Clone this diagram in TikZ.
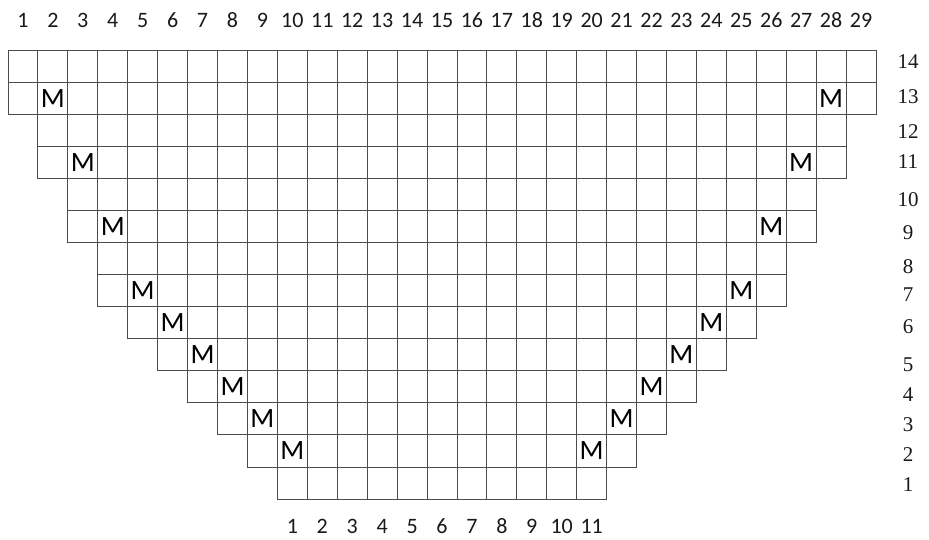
\documentclass[tikz,border=0pt]{standalone}
\usepackage{fontspec}
\setmainfont{Liberation Serif}
\newfontfamily\cellfont{Carlito}
\begin{document}
\begin{tikzpicture}[
    x=29.93pt, y=32.07pt,
    cell/.style   = {draw=black!70, line width=0.9pt},
    collab/.style = {font=\cellfont\fontsize{22}{22}\selectfont, text=black!90, inner sep=0pt, anchor=base},
    rowlab/.style = {font=\fontsize{21}{21}\selectfont, text=black!90, inner sep=0pt},
    mcell/.style  = {font=\cellfont\fontsize{28}{28}\selectfont, text=black, inner sep=0pt}
  ]
  \useasboundingbox (-0.267,-1.247) rectangle (30.77,15.56);

  %% rows: row number / first column / last column
  \foreach \r/\L/\R in {14/1/29, 13/1/29, 12/2/28, 11/2/28, 10/3/27, 9/3/27, 8/4/26,
                        7/4/26, 6/5/25, 5/6/24, 4/7/23, 3/8/22, 2/9/21, 1/10/20}{
    \foreach \c in {\L,...,\R}{\draw[cell] (\c-1,\r-1) rectangle (\c,\r);}
  }

  %% M marks: second cell in from each end
  \foreach \r/\L/\R in {13/2/28, 11/3/27, 9/4/26, 7/5/25, 6/6/24, 5/7/23, 4/8/22, 3/9/21, 2/10/20}{
    \node[mcell] (mL\r) at (\L-0.5,\r-0.5) {M};
    \node[mcell] (mR\r) at (\R-0.5,\r-0.5) {M};
  }

  %% column numbers on top
  \foreach \c in {1,...,29}{\node[collab] (col\c) at (\c-0.5,14.69) {\c};}

  %% numbers under the bottom row
  \foreach \k in {1,...,11}{\node[collab] (base\k) at (\k+8.5,-1.07) {\k};}

  %% row numbers on the right
  \foreach \r/\yy in {14/62, 13/97, 12/132, 11/162, 10/200, 9/233, 8/267, 7/295,
                      6/327, 5/365, 4/395, 3/425, 2/455, 1/485}{
    \node[rowlab] (row\r) at (30.07,{(499-\yy)/32.07}) {\r};
  }
\end{tikzpicture}
\end{document}
